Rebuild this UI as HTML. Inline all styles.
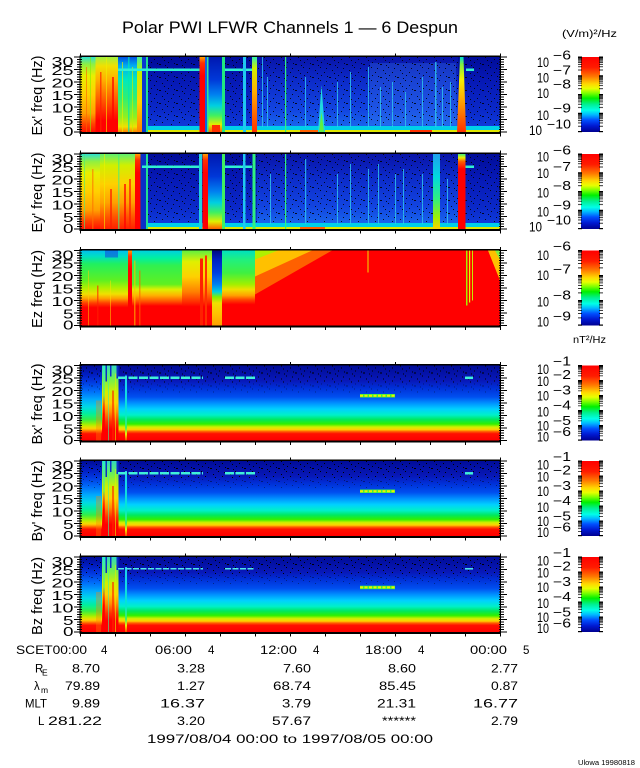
<!DOCTYPE html>
<html><head><meta charset="utf-8">
<style>
html,body{margin:0;padding:0;background:#fff;}
svg{display:block;}
text{font-family:"Liberation Sans",sans-serif;fill:#000;}
</style></head><body>
<svg width="640" height="768" viewBox="0 0 640 768" xmlns="http://www.w3.org/2000/svg">
<defs>
<linearGradient id="cb" x1="0" y1="0" x2="0" y2="1">
<stop offset="0" stop-color="#ff0000"/><stop offset=".14" stop-color="#ff1c00"/><stop offset=".26" stop-color="#ff7800"/><stop offset=".36" stop-color="#ffd800"/><stop offset=".42" stop-color="#e8ff00"/><stop offset=".48" stop-color="#80ff00"/><stop offset=".55" stop-color="#00f000"/><stop offset=".63" stop-color="#00f090"/><stop offset=".71" stop-color="#00ffe8"/><stop offset=".77" stop-color="#00b8ff"/><stop offset=".84" stop-color="#0050ff"/><stop offset=".92" stop-color="#0018d0"/><stop offset="1" stop-color="#000090"/>
</linearGradient>
<linearGradient id="exBg" x1="0" y1="0" x2="0" y2="1"><stop offset="0" stop-color="#000c98"/><stop offset=".3" stop-color="#0618b4"/><stop offset=".7" stop-color="#0a28c8"/><stop offset="1" stop-color="#1040e0"/></linearGradient>
<linearGradient id="exR" x1="0" y1="0" x2="0" y2="1"><stop offset="0" stop-color="#0814a8"/><stop offset=".3" stop-color="#0c2ac8"/><stop offset=".7" stop-color="#1244e0"/><stop offset="1" stop-color="#1a70f0"/></linearGradient>
<linearGradient id="hotA" x1="0" y1="0" x2="0" y2="1"><stop offset="0" stop-color="#30e0d0"/><stop offset=".1" stop-color="#90f040"/><stop offset=".25" stop-color="#e8f000"/><stop offset=".5" stop-color="#ffd000"/><stop offset=".75" stop-color="#ffa000"/><stop offset=".9" stop-color="#ff4000"/><stop offset="1" stop-color="#ff1000"/></linearGradient>
<linearGradient id="hotB" x1="0" y1="0" x2="0" y2="1"><stop offset="0" stop-color="#a0f040"/><stop offset=".12" stop-color="#f0e000"/><stop offset=".3" stop-color="#ffb000"/><stop offset=".5" stop-color="#ff7000"/><stop offset=".7" stop-color="#ff3000"/><stop offset=".85" stop-color="#ff0000"/><stop offset="1" stop-color="#ff0000"/></linearGradient>
<linearGradient id="hotC" x1="0" y1="0" x2="0" y2="1"><stop offset="0" stop-color="#60f070"/><stop offset=".15" stop-color="#d0f000"/><stop offset=".4" stop-color="#ffd000"/><stop offset=".65" stop-color="#ffa000"/><stop offset=".85" stop-color="#ff5000"/><stop offset="1" stop-color="#ff2000"/></linearGradient>
<linearGradient id="mixG" x1="0" y1="0" x2="0" y2="1"><stop offset="0" stop-color="#0050e0"/><stop offset=".12" stop-color="#00b0f0"/><stop offset=".3" stop-color="#00e8c0"/><stop offset=".55" stop-color="#30f070"/><stop offset=".8" stop-color="#90f020"/><stop offset=".93" stop-color="#f0e000"/><stop offset="1" stop-color="#ff8000"/></linearGradient>
<linearGradient id="ybar" x1="0" y1="0" x2="0" y2="1"><stop offset="0" stop-color="#40f0a0"/><stop offset=".2" stop-color="#c0f000"/><stop offset=".6" stop-color="#ffd000"/><stop offset="1" stop-color="#ff8000"/></linearGradient>
<linearGradient id="rbar" x1="0" y1="0" x2="0" y2="1"><stop offset="0" stop-color="#ffa000"/><stop offset=".08" stop-color="#ff3000"/><stop offset=".25" stop-color="#ff0000"/><stop offset="1" stop-color="#ff0000"/></linearGradient>
<linearGradient id="rbar2" x1="0" y1="0" x2="0" y2="1"><stop offset="0" stop-color="#40f080"/><stop offset=".05" stop-color="#f0f000"/><stop offset=".1" stop-color="#ff6000"/><stop offset=".2" stop-color="#ff0000"/><stop offset="1" stop-color="#ff0000"/></linearGradient>
<linearGradient id="mid1" x1="0" y1="0" x2="0" y2="1"><stop offset="0" stop-color="#0018b0"/><stop offset=".3" stop-color="#0038d8"/><stop offset=".5" stop-color="#0080f0"/><stop offset=".65" stop-color="#00d0e0"/><stop offset=".78" stop-color="#40f060"/><stop offset=".9" stop-color="#e0f000"/><stop offset="1" stop-color="#ff6000"/></linearGradient>
<linearGradient id="ybar2" x1="0" y1="0" x2="0" y2="1"><stop offset="0" stop-color="#30f0b0"/><stop offset=".15" stop-color="#d0f000"/><stop offset=".45" stop-color="#ffb000"/><stop offset="1" stop-color="#ff3000"/></linearGradient>
<linearGradient id="taper" x1="0" y1="0" x2="0" y2="1"><stop offset="0" stop-color="#00e0d0"/><stop offset=".1" stop-color="#80f040"/><stop offset=".3" stop-color="#f8f000"/><stop offset=".6" stop-color="#ffa000"/><stop offset="1" stop-color="#ff3000"/></linearGradient>
<linearGradient id="cyg" x1="0" y1="0" x2="0" y2="1"><stop offset="0" stop-color="#20a0f0"/><stop offset=".3" stop-color="#00d8e0"/><stop offset=".6" stop-color="#30f080"/><stop offset=".85" stop-color="#a0f000"/><stop offset="1" stop-color="#ffd000"/></linearGradient>
<linearGradient id="bgB" x1="0" y1="0" x2="0" y2="1"><stop offset="0" stop-color="#000c98"/><stop offset=".2" stop-color="#0818b8"/><stop offset=".3" stop-color="#0030d8"/><stop offset=".42" stop-color="#0050f0"/><stop offset=".5" stop-color="#0090ff"/><stop offset=".58" stop-color="#00d0ff"/><stop offset=".66" stop-color="#00f0c8"/><stop offset=".72" stop-color="#00e860"/><stop offset=".78" stop-color="#30f000"/><stop offset=".82" stop-color="#d0f000"/><stop offset=".855" stop-color="#ffd000"/><stop offset=".88" stop-color="#ff6000"/><stop offset=".91" stop-color="#ff1000"/><stop offset="1" stop-color="#ff0000"/></linearGradient>
<linearGradient id="bgBL" x1="0" y1="0" x2="0" y2="1"><stop offset="0" stop-color="#000c98"/><stop offset=".12" stop-color="#0020c8"/><stop offset=".22" stop-color="#0040e8"/><stop offset=".34" stop-color="#0078ff"/><stop offset=".45" stop-color="#00b8ff"/><stop offset=".55" stop-color="#00e0e0"/><stop offset=".64" stop-color="#00f090"/><stop offset=".72" stop-color="#40f040"/><stop offset=".79" stop-color="#c0f000"/><stop offset=".84" stop-color="#ffd000"/><stop offset=".88" stop-color="#ff6000"/><stop offset=".91" stop-color="#ff1000"/><stop offset="1" stop-color="#ff0000"/></linearGradient>
<linearGradient id="spk" x1="0" y1="0" x2="0" y2="1"><stop offset="0" stop-color="#30d8c0"/><stop offset=".18" stop-color="#70f050"/><stop offset=".35" stop-color="#d0f000"/><stop offset=".5" stop-color="#ffd000"/><stop offset=".62" stop-color="#ff9000"/><stop offset=".75" stop-color="#ff3000"/><stop offset=".85" stop-color="#ff0000"/><stop offset="1" stop-color="#ff0000"/></linearGradient>
<linearGradient id="spk2" x1="0" y1="0" x2="0" y2="1"><stop offset="0" stop-color="#20f0d0"/><stop offset=".4" stop-color="#80f040"/><stop offset=".55" stop-color="#ff4000"/><stop offset=".65" stop-color="#ff0000"/><stop offset="1" stop-color="#ff0000"/></linearGradient>
<linearGradient id="cl" x1="0" y1="0" x2="0" y2="1"><stop offset="0" stop-color="#20d0f0"/><stop offset=".6" stop-color="#00e8d0"/><stop offset=".8" stop-color="#40f060"/><stop offset=".9" stop-color="#f0f000"/><stop offset="1" stop-color="#ff4000"/></linearGradient>
<linearGradient id="ezA" x1="0" y1="0" x2="0" y2="1"><stop offset="0" stop-color="#00c0f0"/><stop offset=".08" stop-color="#00e0c0"/><stop offset=".18" stop-color="#20f060"/><stop offset=".4" stop-color="#60f020"/><stop offset=".5" stop-color="#b0f000"/><stop offset=".58" stop-color="#f0e000"/><stop offset=".64" stop-color="#ffa000"/><stop offset=".7" stop-color="#ff4000"/><stop offset=".76" stop-color="#ff0000"/><stop offset="1" stop-color="#ff0000"/></linearGradient>
<linearGradient id="ezB" x1="0" y1="0" x2="0" y2="1"><stop offset="0" stop-color="#00d0e0"/><stop offset=".1" stop-color="#00f0a0"/><stop offset=".2" stop-color="#30f050"/><stop offset=".45" stop-color="#60f020"/><stop offset=".52" stop-color="#e0f000"/><stop offset=".6" stop-color="#ffb000"/><stop offset=".68" stop-color="#ff5000"/><stop offset=".74" stop-color="#ff0000"/><stop offset="1" stop-color="#ff0000"/></linearGradient>
<linearGradient id="ezC" x1="0" y1="0" x2="0" y2="1"><stop offset="0" stop-color="#60f040"/><stop offset=".15" stop-color="#e0f000"/><stop offset=".35" stop-color="#ffd000"/><stop offset=".55" stop-color="#ff8000"/><stop offset=".68" stop-color="#ff3000"/><stop offset=".75" stop-color="#ff0000"/><stop offset="1" stop-color="#ff0000"/></linearGradient>
<linearGradient id="ezD" x1="0" y1="0" x2="0" y2="1"><stop offset="0" stop-color="#000880"/><stop offset=".12" stop-color="#0020c0"/><stop offset=".3" stop-color="#0040e0"/><stop offset=".45" stop-color="#0080f0"/><stop offset=".55" stop-color="#00d0e0"/><stop offset=".62" stop-color="#80f000"/><stop offset=".7" stop-color="#f0e000"/><stop offset=".85" stop-color="#ffc000"/><stop offset="1" stop-color="#ffa000"/></linearGradient>
<linearGradient id="ezE" x1="0" y1="0" x2="0" y2="1"><stop offset="0" stop-color="#00e0c0"/><stop offset=".12" stop-color="#20f080"/><stop offset=".3" stop-color="#40f040"/><stop offset=".45" stop-color="#a0f000"/><stop offset=".52" stop-color="#f0e000"/><stop offset=".6" stop-color="#ffa000"/><stop offset=".66" stop-color="#ff4000"/><stop offset=".72" stop-color="#ff0000"/><stop offset="1" stop-color="#ff0000"/></linearGradient>

<pattern id="sp" x="0" y="0" width="17" height="13" patternUnits="userSpaceOnUse">
<rect x="1" y="2" width="1" height="1"/><rect x="6" y="7" width="2" height="1"/><rect x="11" y="3" width="1" height="1"/><rect x="14" y="10" width="1" height="1"/><rect x="3" y="11" width="1" height="1"/><rect x="9" y="0" width="1" height="1"/><rect x="15" y="5" width="1" height="1"/><rect x="4" y="6" width="1" height="1"/><rect x="12" y="8" width="1" height="1"/>
</pattern>
<pattern id="ytL" x="74" y="-0.5" width="8" height="12.5" patternUnits="userSpaceOnUse">
<rect x="0" y="0" width="8" height="1"/><rect x="3" y="2.5" width="5" height="1"/><rect x="3" y="5" width="5" height="1"/><rect x="3" y="7.5" width="5" height="1"/><rect x="3" y="10" width="5" height="1"/>
</pattern>
<pattern id="ytR" x="499" y="-0.5" width="8" height="12.5" patternUnits="userSpaceOnUse">
<rect x="0" y="0" width="8" height="1"/><rect x="0" y="2.5" width="5" height="1"/><rect x="0" y="5" width="5" height="1"/><rect x="0" y="7.5" width="5" height="1"/><rect x="0" y="10" width="5" height="1"/>
</pattern>
<pattern id="xt" x="80" y="0" width="35" height="10" patternUnits="userSpaceOnUse"><rect x="0" y="0" width="1" height="10"/></pattern>
<pattern id="xt6" x="80" y="0" width="105" height="10" patternUnits="userSpaceOnUse"><rect x="0" y="0" width="1" height="10"/></pattern>
<pattern id="cbt1" x="0" y="-0.5" width="4" height="18.75" patternUnits="userSpaceOnUse">
<rect y="0" width="4" height="1.2"/><rect y="0.86" width="4" height="0.8"/><rect y="1.82" width="4" height="0.8"/><rect y="2.9" width="4" height="0.8"/><rect y="4.16" width="4" height="0.8"/><rect y="5.64" width="4" height="0.8"/><rect y="7.46" width="4" height="0.8"/><rect y="9.8" width="4" height="0.8"/><rect y="13.1" width="4" height="0.8"/>
</pattern>
<pattern id="cbt3" x="0" y="-0.5" width="4" height="25" patternUnits="userSpaceOnUse">
<rect y="0" width="4" height="1.2"/><rect y="1.15" width="4" height="0.8"/><rect y="2.4" width="4" height="0.8"/><rect y="3.9" width="4" height="0.8"/><rect y="5.55" width="4" height="0.8"/><rect y="7.5" width="4" height="0.8"/><rect y="9.95" width="4" height="0.8"/><rect y="13.1" width="4" height="0.8"/><rect y="17.5" width="4" height="0.8"/>
</pattern>
<pattern id="cbtB" x="0" y="-0.5" width="4" height="15" patternUnits="userSpaceOnUse">
<rect y="0" width="4" height="1.2"/><rect y="0.69" width="4" height="0.7"/><rect y="1.45" width="4" height="0.7"/><rect y="2.32" width="4" height="0.7"/><rect y="3.33" width="4" height="0.7"/><rect y="4.5" width="4" height="0.7"/><rect y="5.97" width="4" height="0.7"/><rect y="7.85" width="4" height="0.7"/><rect y="10.5" width="4" height="0.7"/>
</pattern>
</defs>

<rect width="640" height="768" fill="#fff"/>

<text x="122" y="33" font-size="17" textLength="336" lengthAdjust="spacingAndGlyphs">Polar PWI LFWR Channels 1 — 6 Despun</text>
<text x="562" y="37" font-size="10" textLength="55" lengthAdjust="spacingAndGlyphs">(V/m)²/Hz</text>
<text x="573" y="343" font-size="10" textLength="33" lengthAdjust="spacingAndGlyphs">nT²/Hz</text>

<!-- PANEL 1 Ex -->
<g transform="translate(0,57)">
<rect x="80.5" y="0" width="419.5" height="75" fill="url(#exBg)"/>
<rect x="257" y="0" width="201" height="75" fill="url(#exR)"/>
<rect x="370" y="6" width="86" height="62" fill="#3c80f0" opacity=".28"/>
<rect x="80.5" y="0" width="419.5" height="68" fill="url(#sp)" opacity=".85"/>
<rect x="80.5" y="69" width="419.5" height="4" fill="#00d0e8"/>
<rect x="80.5" y="73" width="419.5" height="2" fill="#e0e800"/>
<rect x="300" y="73" width="25" height="2" fill="#ff6000"/>
<rect x="410" y="73" width="22" height="2" fill="#ff3000"/>
<rect x="80.5" y="0" width="15" height="75" fill="url(#hotA)"/>
<rect x="95.5" y="0" width="22.5" height="75" fill="url(#hotB)"/>
<rect x="118" y="0" width="19" height="75" fill="url(#mixG)"/>
<rect x="137" y="0" width="5" height="75" fill="url(#ybar)"/>
<rect x="142" y="0" width="4" height="75" fill="#0838d0"/>
<rect x="146" y="0" width="2" height="75" fill="#20e090"/>
<rect x="86" y="10" width="1" height="65" fill="#ff6000" opacity=".6"/>
<rect x="90" y="0" width="1" height="75" fill="#80f000" opacity=".6"/>
<rect x="100" y="15" width="1.5" height="60" fill="#ff2000" opacity=".7"/>
<rect x="106" y="0" width="1" height="75" fill="#f0f000" opacity=".6"/>
<rect x="112" y="20" width="2" height="55" fill="#ff0000" opacity=".7"/>
<rect x="122" y="5" width="1" height="70" fill="#e0f000" opacity=".7"/>
<rect x="128" y="0" width="1.5" height="75" fill="#00e8b0" opacity=".7"/>
<rect x="132" y="10" width="1" height="65" fill="#c0f000" opacity=".7"/>
<rect x="118" y="11.5" width="82" height="2.5" fill="#30f0d0"/>
<rect x="223" y="11.5" width="29" height="2.5" fill="#30f0d0"/>
<rect x="466" y="11.5" width="8" height="2.5" fill="#30f0d0"/>
<rect x="199.5" y="0" width="5.5" height="75" fill="url(#rbar)"/>
<rect x="205" y="0" width="2" height="75" fill="#1060e0"/>
<rect x="207" y="0" width="1.5" height="75" fill="#30e890"/>
<rect x="208.5" y="0" width="13.5" height="75" fill="url(#mid1)"/>
<rect x="212" y="68" width="8" height="7" fill="#ff3000"/>
<rect x="222" y="0" width="3" height="75" fill="#20e880"/>
<rect x="243" y="0" width="3" height="75" fill="#20c8f0"/>
<rect x="252" y="0" width="5" height="75" fill="url(#ybar2)"/>
<polygon points="460,0 463.5,0 466,75 457,75" fill="url(#taper)"/>
<g fill="#30c8f0" opacity=".8">
<rect x="262" y="0" width="1" height="70"/><rect x="267" y="20" width="1" height="50"/><rect x="305" y="20" width="1" height="50"/><rect x="337" y="25" width="1" height="45"/><rect x="350" y="15" width="1" height="55"/><rect x="368" y="10" width="1" height="60"/><rect x="380" y="30" width="1" height="40"/><rect x="392" y="25" width="1" height="45"/><rect x="405" y="35" width="1" height="35"/><rect x="422" y="20" width="1" height="50"/><rect x="435" y="5" width="1.5" height="65"/><rect x="442" y="30" width="1" height="40"/><rect x="450" y="25" width="1" height="45"/>
</g>
<rect x="285" y="0" width="1.2" height="75" fill="#30f080"/>
<polygon points="321.5,28 325,75 318,75" fill="#20d8e0"/>
<polygon points="321.5,55 324,75 319,75" fill="#60f040"/>
<rect x="80" y="-1.5" width="421" height="1.5"/><rect x="80" y="75" width="421" height="2"/>
<rect x="79.5" y="-1.5" width="1" height="78.5"/><rect x="500" y="-1.5" width="1" height="78.5"/>
<rect x="74" y="-0.5" width="8" height="76" fill="url(#ytL)"/><rect x="499" y="-0.5" width="8" height="76" fill="url(#ytR)"/>
<rect x="80" y="77" width="421" height="2.5" fill="url(#xt)"/><rect x="80" y="-3.5" width="421" height="2" fill="url(#xt6)"/>
<g font-size="12.5" text-anchor="end">
<text x="73.5" y="8.8" textLength="22" lengthAdjust="spacingAndGlyphs">30</text><text x="73.5" y="18" textLength="22" lengthAdjust="spacingAndGlyphs">25</text><text x="73.5" y="30.5" textLength="22" lengthAdjust="spacingAndGlyphs">20</text><text x="73.5" y="42.8" textLength="22" lengthAdjust="spacingAndGlyphs">15</text><text x="73.5" y="55.5" textLength="22" lengthAdjust="spacingAndGlyphs">10</text><text x="73.5" y="67.8" textLength="10.5" lengthAdjust="spacingAndGlyphs">5</text><text x="73.5" y="78.8" textLength="10.5" lengthAdjust="spacingAndGlyphs">0</text>
</g>
<text transform="translate(42,38.5) rotate(-90)" text-anchor="middle" font-size="15" textLength="80" lengthAdjust="spacingAndGlyphs">Ex' freq (Hz)</text>
<rect x="581" y="0" width="19" height="75" fill="url(#cb)"/>
<rect x="578" y="-0.5" width="4" height="75.5" fill="url(#cbt1)"/><rect x="599" y="-0.5" width="4" height="75.5" fill="url(#cbt1)"/>
<rect x="578" y="74" width="4" height="1.2"/><rect x="599" y="74" width="4" height="1.2"/>
<g font-size="13.5"><text x="537" y="10" textLength="12" lengthAdjust="spacingAndGlyphs">10</text><text x="537" y="25.5" textLength="12" lengthAdjust="spacingAndGlyphs">10</text><text x="537" y="41" textLength="12" lengthAdjust="spacingAndGlyphs">10</text><text x="537" y="63" textLength="12" lengthAdjust="spacingAndGlyphs">10</text><text x="529" y="78" textLength="13" lengthAdjust="spacingAndGlyphs">10</text></g>
<g font-size="12.5"><text x="553" y="2.5" textLength="18" lengthAdjust="spacingAndGlyphs">−6</text><text x="553" y="17.5" textLength="18" lengthAdjust="spacingAndGlyphs">−7</text><text x="553" y="31.5" textLength="18" lengthAdjust="spacingAndGlyphs">−8</text><text x="553" y="55.5" textLength="18" lengthAdjust="spacingAndGlyphs">−9</text><text x="547" y="71.5" textLength="24" lengthAdjust="spacingAndGlyphs">−10</text></g>
</g>

<!-- PANEL 2 Ey -->
<g transform="translate(0,154)">
<rect x="80.5" y="0" width="419.5" height="75" fill="url(#exBg)"/>
<rect x="257" y="0" width="201" height="75" fill="url(#exR)"/>
<rect x="80.5" y="0" width="419.5" height="68" fill="url(#sp)" opacity=".85"/>
<rect x="80.5" y="69" width="419.5" height="4" fill="#00d0e8"/>
<rect x="80.5" y="73" width="419.5" height="2" fill="#e0e800"/>
<rect x="300" y="73" width="25" height="2" fill="#ff6000"/>
<rect x="80.5" y="0" width="19.5" height="75" fill="url(#hotA)"/>
<rect x="100" y="0" width="35" height="75" fill="url(#hotC)"/>
<rect x="84" y="0" width="1" height="75" fill="#40f080" opacity=".6"/>
<rect x="92" y="15" width="1.5" height="60" fill="#ff7000" opacity=".6"/>
<rect x="104" y="0" width="1" height="75" fill="#f0f000" opacity=".6"/>
<rect x="110" y="35" width="2" height="40" fill="#ff2000" opacity=".7"/>
<rect x="118" y="0" width="1.5" height="75" fill="#40f080" opacity=".6"/>
<rect x="124" y="30" width="2" height="45" fill="#ff0000" opacity=".7"/>
<rect x="129" y="25" width="2" height="50" fill="#ff2000" opacity=".7"/>
<rect x="135" y="0" width="5.5" height="75" fill="url(#rbar)"/>
<rect x="140.5" y="0" width="5.5" height="75" fill="#0a30c8"/>
<rect x="146" y="0" width="2" height="75" fill="#20e090"/>
<rect x="142" y="11.5" width="58" height="2.5" fill="#30f0d0"/>
<rect x="223" y="11.5" width="29" height="2.5" fill="#30f0d0"/>
<rect x="465" y="11.5" width="9" height="2.5" fill="#30f0d0"/>
<rect x="199" y="0" width="3" height="75" fill="#20d0e0"/>
<rect x="202.5" y="0" width="5.5" height="75" fill="url(#rbar)"/>
<rect x="208" y="0" width="14" height="75" fill="url(#mid1)"/>
<rect x="222" y="0" width="3" height="75" fill="#40f060"/>
<rect x="243" y="0" width="2.5" height="75" fill="#20c8f0"/>
<rect x="252.5" y="0" width="3" height="75" fill="#30f080"/>
<rect x="433" y="0" width="7" height="75" fill="url(#cyg)"/>
<rect x="458" y="0" width="7.5" height="75" fill="url(#rbar2)"/>
<g fill="#30c8f0" opacity=".8">
<rect x="305" y="5" width="1.2" height="65"/><rect x="337" y="20" width="1" height="50"/><rect x="350" y="10" width="1" height="60"/><rect x="368" y="15" width="1" height="55"/><rect x="378" y="10" width="1" height="60"/><rect x="395" y="20" width="1" height="50"/><rect x="403" y="15" width="1" height="55"/><rect x="422" y="20" width="1" height="50"/><rect x="447" y="25" width="1" height="45"/><rect x="270" y="20" width="1" height="50"/>
</g>
<rect x="285" y="0" width="1.2" height="75" fill="#30f080"/>
<rect x="80" y="-1.5" width="421" height="1.5"/><rect x="80" y="75" width="421" height="2"/>
<rect x="79.5" y="-1.5" width="1" height="78.5"/><rect x="500" y="-1.5" width="1" height="78.5"/>
<rect x="74" y="-0.5" width="8" height="76" fill="url(#ytL)"/><rect x="499" y="-0.5" width="8" height="76" fill="url(#ytR)"/>
<rect x="80" y="77" width="421" height="2.5" fill="url(#xt)"/><rect x="80" y="-3.5" width="421" height="2" fill="url(#xt6)"/>
<g font-size="12.5" text-anchor="end">
<text x="73.5" y="8.8" textLength="22" lengthAdjust="spacingAndGlyphs">30</text><text x="73.5" y="18" textLength="22" lengthAdjust="spacingAndGlyphs">25</text><text x="73.5" y="30.5" textLength="22" lengthAdjust="spacingAndGlyphs">20</text><text x="73.5" y="42.8" textLength="22" lengthAdjust="spacingAndGlyphs">15</text><text x="73.5" y="55.5" textLength="22" lengthAdjust="spacingAndGlyphs">10</text><text x="73.5" y="67.8" textLength="10.5" lengthAdjust="spacingAndGlyphs">5</text><text x="73.5" y="78.8" textLength="10.5" lengthAdjust="spacingAndGlyphs">0</text>
</g>
<text transform="translate(42,38.5) rotate(-90)" text-anchor="middle" font-size="15" textLength="80" lengthAdjust="spacingAndGlyphs">Ey' freq (Hz)</text>
<rect x="581" y="0" width="19" height="75" fill="url(#cb)"/>
<rect x="578" y="-0.5" width="4" height="75.5" fill="url(#cbt1)"/><rect x="599" y="-0.5" width="4" height="75.5" fill="url(#cbt1)"/>
<rect x="578" y="74" width="4" height="1.2"/><rect x="599" y="74" width="4" height="1.2"/>
<g font-size="13.5"><text x="537" y="7.7" textLength="12" lengthAdjust="spacingAndGlyphs">10</text><text x="537" y="24" textLength="12" lengthAdjust="spacingAndGlyphs">10</text><text x="537" y="43.7" textLength="12" lengthAdjust="spacingAndGlyphs">10</text><text x="537" y="62.7" textLength="12" lengthAdjust="spacingAndGlyphs">10</text><text x="529" y="77.7" textLength="13" lengthAdjust="spacingAndGlyphs">10</text></g>
<g font-size="12.5"><text x="553" y="0.5" textLength="18" lengthAdjust="spacingAndGlyphs">−6</text><text x="553" y="17.2" textLength="18" lengthAdjust="spacingAndGlyphs">−7</text><text x="553" y="36.2" textLength="18" lengthAdjust="spacingAndGlyphs">−8</text><text x="553" y="55.5" textLength="18" lengthAdjust="spacingAndGlyphs">−9</text><text x="547" y="70.5" textLength="24" lengthAdjust="spacingAndGlyphs">−10</text></g>
</g>

<!-- PANEL 3 Ez -->
<g transform="translate(0,250.5)">
<rect x="80.5" y="0" width="419.5" height="75" fill="#ff0000"/>
<rect x="80.5" y="0" width="48" height="75" fill="url(#ezA)"/>
<rect x="105" y="0" width="13" height="7" fill="#1040e0" opacity=".55"/>
<rect x="88" y="20" width="1" height="55" fill="#ffd000" opacity=".5"/>
<rect x="97" y="35" width="1.5" height="40" fill="#ff2000" opacity=".6"/>
<rect x="110" y="30" width="1" height="45" fill="#ffe000" opacity=".5"/>
<rect x="128" y="0" width="4" height="75" fill="url(#rbar)"/>
<rect x="132" y="0" width="50" height="75" fill="url(#ezB)"/>
<rect x="134" y="10" width="1.5" height="65" fill="#ffc000" opacity=".6"/>
<rect x="139" y="20" width="1.5" height="55" fill="#ff6000" opacity=".6"/>
<rect x="182" y="0" width="30" height="75" fill="url(#ezC)"/>
<rect x="200" y="8" width="3" height="67" fill="#ff2000"/>
<rect x="205" y="5" width="2" height="70" fill="#ff3000"/>
<rect x="212" y="0" width="10" height="75" fill="url(#ezD)"/>
<rect x="222" y="0" width="33" height="75" fill="url(#ezE)"/>
<polygon points="255,0 332,0 255,44" fill="#ff6000"/>
<polygon points="255,0 312,0 255,26" fill="#ffc000"/>
<polygon points="255,0 278,0 255,9" fill="#b0f000"/>
<rect x="367.5" y="0" width="1" height="22" fill="#f0e000"/>
<rect x="466" y="0" width="1.5" height="55" fill="#a0f000"/>
<rect x="469" y="0" width="1.2" height="52" fill="#f0f000"/>
<rect x="472" y="0" width="1" height="50" fill="#c0f000"/>
<polygon points="488,0 500,0 500,30" fill="#ffc000"/>
<polygon points="495,0 500,0 500,9" fill="#80f040"/>
<rect x="80" y="-1.5" width="421" height="1.5"/><rect x="80" y="75" width="421" height="2"/>
<rect x="79.5" y="-1.5" width="1" height="78.5"/><rect x="500" y="-1.5" width="1" height="78.5"/>
<rect x="74" y="-0.5" width="8" height="76" fill="url(#ytL)"/><rect x="499" y="-0.5" width="8" height="76" fill="url(#ytR)"/>
<rect x="80" y="77" width="421" height="2.5" fill="url(#xt)"/><rect x="80" y="-3.5" width="421" height="2" fill="url(#xt6)"/>
<g font-size="12.5" text-anchor="end">
<text x="73.5" y="8.8" textLength="22" lengthAdjust="spacingAndGlyphs">30</text><text x="73.5" y="18" textLength="22" lengthAdjust="spacingAndGlyphs">25</text><text x="73.5" y="30.5" textLength="22" lengthAdjust="spacingAndGlyphs">20</text><text x="73.5" y="42.8" textLength="22" lengthAdjust="spacingAndGlyphs">15</text><text x="73.5" y="55.5" textLength="22" lengthAdjust="spacingAndGlyphs">10</text><text x="73.5" y="67.8" textLength="10.5" lengthAdjust="spacingAndGlyphs">5</text><text x="73.5" y="78.8" textLength="10.5" lengthAdjust="spacingAndGlyphs">0</text>
</g>
<text transform="translate(42,38.5) rotate(-90)" text-anchor="middle" font-size="15" textLength="78" lengthAdjust="spacingAndGlyphs">Ez freq (Hz)</text>
<rect x="581" y="0" width="19" height="75" fill="url(#cb)"/>
<rect x="578" y="-0.5" width="4" height="75.5" fill="url(#cbt3)"/><rect x="599" y="-0.5" width="4" height="75.5" fill="url(#cbt3)"/>
<rect x="578" y="74" width="4" height="1.2"/><rect x="599" y="74" width="4" height="1.2"/>
<g font-size="13.5"><text x="537" y="9.5" textLength="12" lengthAdjust="spacingAndGlyphs">10</text><text x="537" y="29.5" textLength="12" lengthAdjust="spacingAndGlyphs">10</text><text x="537" y="56.2" textLength="12" lengthAdjust="spacingAndGlyphs">10</text><text x="537" y="76.2" textLength="12" lengthAdjust="spacingAndGlyphs">10</text></g>
<g font-size="12.5"><text x="553" y="0" textLength="18" lengthAdjust="spacingAndGlyphs">−6</text><text x="553" y="23" textLength="18" lengthAdjust="spacingAndGlyphs">−7</text><text x="553" y="49" textLength="18" lengthAdjust="spacingAndGlyphs">−8</text><text x="553" y="70" textLength="18" lengthAdjust="spacingAndGlyphs">−9</text></g>
</g>

<!-- PANEL 4 Bx -->
<g transform="translate(0,365.5)">
<rect x="80.5" y="0" width="419.5" height="75" fill="url(#bgB)"/>
<rect x="80.5" y="0" width="22" height="75" fill="url(#bgBL)" opacity=".8"/>
<rect x="80.5" y="0" width="419.5" height="18" fill="url(#sp)"/>
<rect x="80.5" y="18" width="419.5" height="10" fill="url(#sp)" opacity=".4"/>
<rect x="102" y="0" width="16.5" height="75" fill="url(#spk)"/>
<rect x="105.5" y="0" width="1.5" height="16" fill="#0a30c8"/>
<rect x="110" y="0" width="1.5" height="11" fill="#0a30c8"/>
<rect x="116.5" y="0" width="2" height="13" fill="#0a30c8"/>
<rect x="103" y="0" width="1.8" height="75" fill="url(#spk2)"/>
<rect x="108" y="5" width="1" height="70" fill="#40f0a0" opacity=".6"/>
<rect x="112" y="25" width="2" height="50" fill="#ff2000" opacity=".6"/>
<rect x="115" y="8" width="1" height="67" fill="#e0f000" opacity=".6"/>
<rect x="96" y="35" width="5" height="40" fill="#ff8000" opacity=".35"/>
<rect x="125" y="10" width="2" height="65" fill="url(#cl)"/>
<line x1="118" y1="12.3" x2="203" y2="12.3" stroke="#40f0d8" stroke-width="2.5" stroke-dasharray="9 1.5"/>
<line x1="225" y1="12.3" x2="255" y2="12.3" stroke="#40f0d8" stroke-width="2.5" stroke-dasharray="9 1.5"/>
<line x1="465" y1="12.3" x2="473" y2="12.3" stroke="#40f0d8" stroke-width="2.5"/>
<rect x="360" y="28.5" width="35" height="3.5" fill="#40f040"/>
<line x1="360" y1="30.2" x2="395" y2="30.2" stroke="#f0f000" stroke-width="2" stroke-dasharray="3 1.5"/>
<rect x="80" y="-1.5" width="421" height="1.5"/><rect x="80" y="75" width="421" height="2"/>
<rect x="79.5" y="-1.5" width="1" height="78.5"/><rect x="500" y="-1.5" width="1" height="78.5"/>
<rect x="74" y="-0.5" width="8" height="76" fill="url(#ytL)"/><rect x="499" y="-0.5" width="8" height="76" fill="url(#ytR)"/>
<rect x="80" y="77" width="421" height="2.5" fill="url(#xt)"/><rect x="80" y="-3.5" width="421" height="2" fill="url(#xt6)"/>
<g font-size="12.5" text-anchor="end">
<text x="73.5" y="8.8" textLength="22" lengthAdjust="spacingAndGlyphs">30</text><text x="73.5" y="18" textLength="22" lengthAdjust="spacingAndGlyphs">25</text><text x="73.5" y="30.5" textLength="22" lengthAdjust="spacingAndGlyphs">20</text><text x="73.5" y="42.8" textLength="22" lengthAdjust="spacingAndGlyphs">15</text><text x="73.5" y="55.5" textLength="22" lengthAdjust="spacingAndGlyphs">10</text><text x="73.5" y="67.8" textLength="10.5" lengthAdjust="spacingAndGlyphs">5</text><text x="73.5" y="78.8" textLength="10.5" lengthAdjust="spacingAndGlyphs">0</text>
</g>
<text transform="translate(42,38.5) rotate(-90)" text-anchor="middle" font-size="15" textLength="81" lengthAdjust="spacingAndGlyphs">Bx' freq (Hz)</text>
<rect x="581" y="0" width="19" height="75" fill="url(#cb)"/>
<rect x="578" y="-0.5" width="4" height="75.5" fill="url(#cbtB)"/><rect x="599" y="-0.5" width="4" height="75.5" fill="url(#cbtB)"/>
<rect x="578" y="74" width="4" height="1.2"/><rect x="599" y="74" width="4" height="1.2"/>
<g font-size="13.5"><text x="537" y="8.5" textLength="12" lengthAdjust="spacingAndGlyphs">10</text><text x="537" y="20.4" textLength="12" lengthAdjust="spacingAndGlyphs">10</text><text x="537" y="35" textLength="12" lengthAdjust="spacingAndGlyphs">10</text><text x="537" y="51" textLength="12" lengthAdjust="spacingAndGlyphs">10</text><text x="537" y="65" textLength="12" lengthAdjust="spacingAndGlyphs">10</text><text x="537" y="76.2" textLength="12" lengthAdjust="spacingAndGlyphs">10</text></g>
<g font-size="12.5"><text x="553" y="0.2" textLength="18" lengthAdjust="spacingAndGlyphs">−1</text><text x="553" y="13.5" textLength="18" lengthAdjust="spacingAndGlyphs">−2</text><text x="553" y="28.9" textLength="18" lengthAdjust="spacingAndGlyphs">−3</text><text x="553" y="44.1" textLength="18" lengthAdjust="spacingAndGlyphs">−4</text><text x="553" y="59.7" textLength="18" lengthAdjust="spacingAndGlyphs">−5</text><text x="553" y="70.5" textLength="18" lengthAdjust="spacingAndGlyphs">−6</text></g>
</g>

<!-- PANEL 5 By -->
<g transform="translate(0,461)">
<rect x="80.5" y="0" width="419.5" height="75" fill="url(#bgB)"/>
<rect x="80.5" y="0" width="22" height="75" fill="url(#bgBL)" opacity=".8"/>
<rect x="80.5" y="0" width="419.5" height="18" fill="url(#sp)"/>
<rect x="80.5" y="18" width="419.5" height="10" fill="url(#sp)" opacity=".4"/>
<rect x="102" y="0" width="16.5" height="75" fill="url(#spk)"/>
<rect x="105.5" y="0" width="1.5" height="16" fill="#0a30c8"/>
<rect x="110" y="0" width="1.5" height="11" fill="#0a30c8"/>
<rect x="116.5" y="0" width="2" height="13" fill="#0a30c8"/>
<rect x="103" y="0" width="1.8" height="75" fill="url(#spk2)"/>
<rect x="108" y="5" width="1" height="70" fill="#40f0a0" opacity=".6"/>
<rect x="112" y="25" width="2" height="50" fill="#ff2000" opacity=".6"/>
<rect x="115" y="8" width="1" height="67" fill="#e0f000" opacity=".6"/>
<rect x="96" y="35" width="5" height="40" fill="#ff8000" opacity=".35"/>
<rect x="125" y="10" width="2" height="65" fill="url(#cl)"/>
<line x1="118" y1="12.3" x2="203" y2="12.3" stroke="#40f0d8" stroke-width="2.5" stroke-dasharray="9 1.5"/>
<line x1="225" y1="12.3" x2="255" y2="12.3" stroke="#40f0d8" stroke-width="2.5" stroke-dasharray="9 1.5"/>
<line x1="465" y1="12.3" x2="473" y2="12.3" stroke="#40f0d8" stroke-width="2.5"/>
<rect x="360" y="28.5" width="35" height="3.5" fill="#40f040"/>
<line x1="360" y1="30.2" x2="395" y2="30.2" stroke="#f0f000" stroke-width="2" stroke-dasharray="3 1.5"/>
<rect x="80" y="-1.5" width="421" height="1.5"/><rect x="80" y="75" width="421" height="2"/>
<rect x="79.5" y="-1.5" width="1" height="78.5"/><rect x="500" y="-1.5" width="1" height="78.5"/>
<rect x="74" y="-0.5" width="8" height="76" fill="url(#ytL)"/><rect x="499" y="-0.5" width="8" height="76" fill="url(#ytR)"/>
<rect x="80" y="77" width="421" height="2.5" fill="url(#xt)"/><rect x="80" y="-3.5" width="421" height="2" fill="url(#xt6)"/>
<g font-size="12.5" text-anchor="end">
<text x="73.5" y="8.8" textLength="22" lengthAdjust="spacingAndGlyphs">30</text><text x="73.5" y="18" textLength="22" lengthAdjust="spacingAndGlyphs">25</text><text x="73.5" y="30.5" textLength="22" lengthAdjust="spacingAndGlyphs">20</text><text x="73.5" y="42.8" textLength="22" lengthAdjust="spacingAndGlyphs">15</text><text x="73.5" y="55.5" textLength="22" lengthAdjust="spacingAndGlyphs">10</text><text x="73.5" y="67.8" textLength="10.5" lengthAdjust="spacingAndGlyphs">5</text><text x="73.5" y="78.8" textLength="10.5" lengthAdjust="spacingAndGlyphs">0</text>
</g>
<text transform="translate(42,40) rotate(-90)" text-anchor="middle" font-size="15" textLength="81" lengthAdjust="spacingAndGlyphs">By' freq (Hz)</text>
<rect x="581" y="0" width="19" height="75" fill="url(#cb)"/>
<rect x="578" y="-0.5" width="4" height="75.5" fill="url(#cbtB)"/><rect x="599" y="-0.5" width="4" height="75.5" fill="url(#cbtB)"/>
<rect x="578" y="74" width="4" height="1.2"/><rect x="599" y="74" width="4" height="1.2"/>
<g font-size="13.5"><text x="537" y="8.5" textLength="12" lengthAdjust="spacingAndGlyphs">10</text><text x="537" y="20.4" textLength="12" lengthAdjust="spacingAndGlyphs">10</text><text x="537" y="35" textLength="12" lengthAdjust="spacingAndGlyphs">10</text><text x="537" y="51" textLength="12" lengthAdjust="spacingAndGlyphs">10</text><text x="537" y="65" textLength="12" lengthAdjust="spacingAndGlyphs">10</text><text x="537" y="76.2" textLength="12" lengthAdjust="spacingAndGlyphs">10</text></g>
<g font-size="12.5"><text x="553" y="0.2" textLength="18" lengthAdjust="spacingAndGlyphs">−1</text><text x="553" y="13.5" textLength="18" lengthAdjust="spacingAndGlyphs">−2</text><text x="553" y="28.9" textLength="18" lengthAdjust="spacingAndGlyphs">−3</text><text x="553" y="44.1" textLength="18" lengthAdjust="spacingAndGlyphs">−4</text><text x="553" y="59.7" textLength="18" lengthAdjust="spacingAndGlyphs">−5</text><text x="553" y="70.5" textLength="18" lengthAdjust="spacingAndGlyphs">−6</text></g>
</g>

<!-- PANEL 6 Bz -->
<g transform="translate(0,557)">
<rect x="80.5" y="0" width="419.5" height="75" fill="url(#bgB)"/>
<rect x="80.5" y="0" width="22" height="75" fill="url(#bgBL)" opacity=".8"/>
<rect x="80.5" y="0" width="419.5" height="18" fill="url(#sp)"/>
<rect x="80.5" y="18" width="419.5" height="10" fill="url(#sp)" opacity=".4"/>
<rect x="102" y="0" width="16.5" height="75" fill="url(#spk)"/>
<rect x="105.5" y="0" width="1.5" height="16" fill="#0a30c8"/>
<rect x="110" y="0" width="1.5" height="11" fill="#0a30c8"/>
<rect x="116.5" y="0" width="2" height="13" fill="#0a30c8"/>
<rect x="103" y="0" width="1.8" height="75" fill="url(#spk2)"/>
<rect x="108" y="5" width="1" height="70" fill="#40f0a0" opacity=".6"/>
<rect x="112" y="25" width="2" height="50" fill="#ff2000" opacity=".6"/>
<rect x="115" y="8" width="1" height="67" fill="#e0f000" opacity=".6"/>
<rect x="96" y="35" width="5" height="40" fill="#ff8000" opacity=".35"/>
<rect x="125" y="10" width="2" height="65" fill="url(#cl)"/>
<line x1="118" y1="11.8" x2="203" y2="11.8" stroke="#50e8e8" stroke-width="1.5" stroke-dasharray="6 1.5"/>
<line x1="225" y1="11.8" x2="255" y2="11.8" stroke="#50e8e8" stroke-width="1.5" stroke-dasharray="6 1.5"/>
<line x1="465" y1="11.8" x2="473" y2="11.8" stroke="#50e8e8" stroke-width="1.5"/>
<rect x="360" y="28.7" width="35" height="3.5" fill="#40f040"/>
<line x1="360" y1="30.4" x2="395" y2="30.4" stroke="#f0f000" stroke-width="2" stroke-dasharray="3 1.5"/>
<rect x="80" y="-1.5" width="421" height="1.5"/><rect x="80" y="75" width="421" height="2"/>
<rect x="79.5" y="-1.5" width="1" height="78.5"/><rect x="500" y="-1.5" width="1" height="78.5"/>
<rect x="74" y="-0.5" width="8" height="76" fill="url(#ytL)"/><rect x="499" y="-0.5" width="8" height="76" fill="url(#ytR)"/>
<rect x="80" y="77" width="421" height="2.5" fill="url(#xt)"/><rect x="80" y="-3.5" width="421" height="2" fill="url(#xt6)"/>
<g font-size="12.5" text-anchor="end">
<text x="73.5" y="8.8" textLength="22" lengthAdjust="spacingAndGlyphs">30</text><text x="73.5" y="18" textLength="22" lengthAdjust="spacingAndGlyphs">25</text><text x="73.5" y="30.5" textLength="22" lengthAdjust="spacingAndGlyphs">20</text><text x="73.5" y="42.8" textLength="22" lengthAdjust="spacingAndGlyphs">15</text><text x="73.5" y="55.5" textLength="22" lengthAdjust="spacingAndGlyphs">10</text><text x="73.5" y="67.8" textLength="10.5" lengthAdjust="spacingAndGlyphs">5</text><text x="73.5" y="78.8" textLength="10.5" lengthAdjust="spacingAndGlyphs">0</text>
</g>
<text transform="translate(42,39) rotate(-90)" text-anchor="middle" font-size="15" textLength="78" lengthAdjust="spacingAndGlyphs">Bz freq (Hz)</text>
<rect x="581" y="0" width="19" height="75" fill="url(#cb)"/>
<rect x="578" y="-0.5" width="4" height="75.5" fill="url(#cbtB)"/><rect x="599" y="-0.5" width="4" height="75.5" fill="url(#cbtB)"/>
<rect x="578" y="74" width="4" height="1.2"/><rect x="599" y="74" width="4" height="1.2"/>
<g font-size="13.5"><text x="537" y="8.5" textLength="12" lengthAdjust="spacingAndGlyphs">10</text><text x="537" y="20.4" textLength="12" lengthAdjust="spacingAndGlyphs">10</text><text x="537" y="35" textLength="12" lengthAdjust="spacingAndGlyphs">10</text><text x="537" y="51" textLength="12" lengthAdjust="spacingAndGlyphs">10</text><text x="537" y="65" textLength="12" lengthAdjust="spacingAndGlyphs">10</text><text x="537" y="76.2" textLength="12" lengthAdjust="spacingAndGlyphs">10</text></g>
<g font-size="12.5"><text x="553" y="0.2" textLength="18" lengthAdjust="spacingAndGlyphs">−1</text><text x="553" y="13.5" textLength="18" lengthAdjust="spacingAndGlyphs">−2</text><text x="553" y="28.9" textLength="18" lengthAdjust="spacingAndGlyphs">−3</text><text x="553" y="44.1" textLength="18" lengthAdjust="spacingAndGlyphs">−4</text><text x="553" y="59.7" textLength="18" lengthAdjust="spacingAndGlyphs">−5</text><text x="553" y="70.5" textLength="18" lengthAdjust="spacingAndGlyphs">−6</text></g>
</g>

<!-- Bottom annotation -->
<g font-size="11.5">
<text x="16" y="654" textLength="71" lengthAdjust="spacingAndGlyphs">SCET00:00</text><text x="101" y="654">4</text>
<text x="155" y="654" textLength="37" lengthAdjust="spacingAndGlyphs">06:00</text><text x="208" y="654">4</text>
<text x="260" y="654" textLength="37" lengthAdjust="spacingAndGlyphs">12:00</text><text x="313" y="654">4</text>
<text x="365" y="654" textLength="37" lengthAdjust="spacingAndGlyphs">18:00</text><text x="418" y="654">4</text>
<text x="470" y="654" textLength="37" lengthAdjust="spacingAndGlyphs">00:00</text><text x="523" y="654">5</text>

<text x="35" y="672.5">R</text><text x="42" y="675.5" font-size="8.5">E</text>
<text x="34" y="690">λ</text><text x="41" y="693" font-size="8.5">m</text>
<text x="25" y="707.5" textLength="22" lengthAdjust="spacingAndGlyphs">MLT</text>
<text x="38" y="725">L</text>

<g text-anchor="end">
<text x="100" y="672.5" textLength="28" lengthAdjust="spacingAndGlyphs">8.70</text>
<text x="205" y="672.5" textLength="28" lengthAdjust="spacingAndGlyphs">3.28</text>
<text x="311" y="672.5" textLength="28" lengthAdjust="spacingAndGlyphs">7.60</text>
<text x="416" y="672.5" textLength="28" lengthAdjust="spacingAndGlyphs">8.60</text>
<text x="518" y="672.5" textLength="27" lengthAdjust="spacingAndGlyphs">2.77</text>

<text x="100" y="690" textLength="35" lengthAdjust="spacingAndGlyphs">79.89</text>
<text x="205" y="690" textLength="28" lengthAdjust="spacingAndGlyphs">1.27</text>
<text x="311" y="690" textLength="38" lengthAdjust="spacingAndGlyphs">68.74</text>
<text x="416" y="690" textLength="37" lengthAdjust="spacingAndGlyphs">85.45</text>
<text x="518" y="690" textLength="27" lengthAdjust="spacingAndGlyphs">0.87</text>

<text x="100" y="707.5" textLength="28" lengthAdjust="spacingAndGlyphs">9.89</text>
<text x="205" y="707.5" textLength="45" lengthAdjust="spacingAndGlyphs">16.37</text>
<text x="311" y="707.5" textLength="29" lengthAdjust="spacingAndGlyphs">3.79</text>
<text x="416" y="707.5" textLength="39" lengthAdjust="spacingAndGlyphs">21.31</text>
<text x="518" y="707.5" textLength="45" lengthAdjust="spacingAndGlyphs">16.77</text>

<text x="102" y="725" textLength="54" lengthAdjust="spacingAndGlyphs">281.22</text>
<text x="205" y="725" textLength="28" lengthAdjust="spacingAndGlyphs">3.20</text>
<text x="311" y="725" textLength="39" lengthAdjust="spacingAndGlyphs">57.67</text>
<text x="416" y="725" textLength="34" lengthAdjust="spacingAndGlyphs">******</text>
<text x="518" y="725" textLength="27" lengthAdjust="spacingAndGlyphs">2.79</text>
</g>

<text x="147" y="743" textLength="286" lengthAdjust="spacingAndGlyphs">1997/08/04 00:00 to 1997/08/05 00:00</text>
</g>
<text x="578" y="765" font-size="7.5" textLength="57" lengthAdjust="spacingAndGlyphs">Ulowa 19980818</text>
</svg>
</body></html>
